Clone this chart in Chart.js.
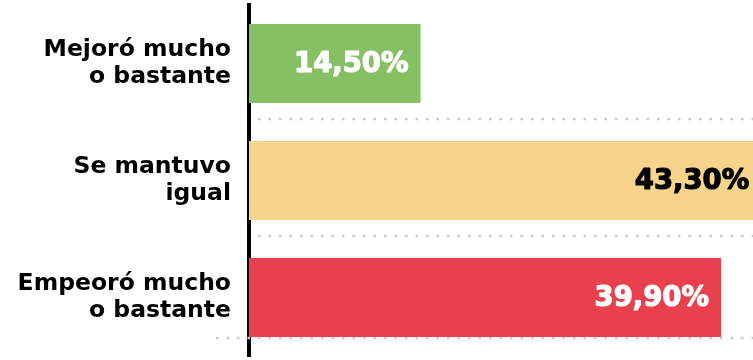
<!DOCTYPE html>
<html>
<head>
<meta charset="utf-8">
<script src="https://cdn.jsdelivr.net/npm/chart.js@4/dist/chart.umd.min.js"></script>
<style>
  html, body { margin: 0; padding: 0; background: #fff; }
  #wrap { width: 753px; height: 360px; }
</style>
</head>
<body>
<div id="wrap"><canvas id="myChart"></canvas></div>
<script>
// categorias y porcentajes
const categorias = [['Mejoró mucho', 'o bastante'], ['Se mantuvo', 'igual'], ['Empeoró mucho', 'o bastante']];
const valores = [14.5, 43.3, 39.9];
const colores = ['#86c065', '#f7d48b', '#e8414d'];
const coloresTexto = ['#ffffff', '#000000', '#ffffff'];

const FUENTE = '"DejaVu Sans", sans-serif';

// lineas de puntos bajo cada barra
const puntos = {
  id: 'puntos',
  beforeDatasetsDraw(chart) {
    const ctx = chart.ctx;
    const area = chart.chartArea;
    const bars = chart.getDatasetMeta(0).data;
    ctx.save();
    ctx.strokeStyle = '#c9c9c9';
    ctx.lineWidth = 2.5;
    ctx.setLineDash([2.5, 8]);
    bars.forEach((b, i) => {
      const ultima = i === bars.length - 1;
      const y = b.y + b.height / 2 + (ultima ? 1 : 16);
      ctx.beginPath();
      ctx.moveTo(ultima ? 216 : area.left + 9, y);
      ctx.lineTo(area.right, y);
      ctx.stroke();
    });
    ctx.restore();
  }
};

// porcentaje dentro de la barra
const etiquetas = {
  id: 'etiquetas',
  afterDatasetsDraw(chart) {
    const ctx = chart.ctx;
    ctx.save();
    ctx.font = 'bold 27.5px ' + FUENTE;
    ctx.textAlign = 'right';
    ctx.textBaseline = 'middle';
    ctx.lineWidth = 1.2;
    ctx.lineJoin = 'round';
    chart.getDatasetMeta(0).data.forEach((b, i) => {
      const txt = valores[i].toFixed(2).replace('.', ',') + '%';
      ctx.fillStyle = coloresTexto[i];
      ctx.strokeStyle = coloresTexto[i];
      ctx.fillText(txt, b.x - 12, b.y + 1);
      ctx.strokeText(txt, b.x - 12, b.y + 1);
    });
    ctx.restore();
  }
};

new Chart(document.getElementById('myChart'), {
  type: 'bar',
  data: {
    labels: categorias,
    datasets: [{
      data: valores,
      backgroundColor: colores,
      borderWidth: 0,
      barPercentage: 0.675,
      categoryPercentage: 1
    }]
  },
  options: {
    indexAxis: 'y',
    responsive: true,
    maintainAspectRatio: false,
    animation: false,
    layout: { padding: { top: 5, bottom: 4, left: 0, right: 0 } },
    plugins: { legend: { display: false }, tooltip: { enabled: false } },
    scales: {
      x: { display: false, min: 0, max: 42.6 },
      y: {
        afterFit(scale) {
          scale.width = 249;
          scale.paddingTop = 0;
          scale.paddingBottom = 0;
        },
        grid: { display: false, drawTicks: false },
        border: { display: true, color: '#000', width: 4 },
        ticks: {
          color: '#000',
          padding: 18,
          font: { family: FUENTE, size: 23.5, weight: 'bold', lineHeight: 1.15 }
        }
      }
    }
  },
  plugins: [puntos, etiquetas]
});
</script>
</body>
</html>
